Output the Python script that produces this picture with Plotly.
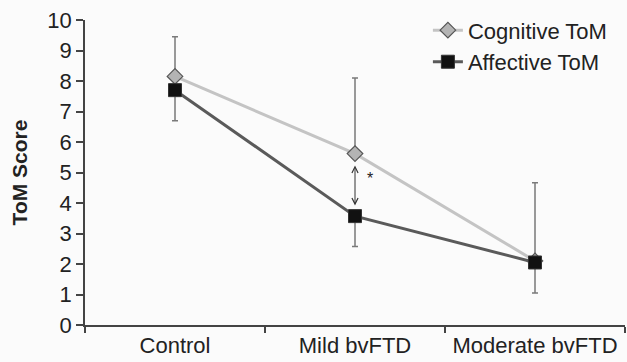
import plotly.graph_objects as go

categories = ["Control", "Mild bvFTD", "Moderate bvFTD"]
cognitive = [8.15, 5.62, 2.1]
cognitive_err_up = [1.3, 2.48, 2.56]
affective = [7.7, 3.57, 2.05]
affective_err_down = [1.0, 1.0, 1.0]
y_ticks = list(range(0, 11))

FONT = "Liberation Sans, Arial, sans-serif"

fig = go.Figure()
fig.add_trace(go.Scatter(
    x=categories, y=cognitive, name="Cognitive ToM", mode="lines+markers", legendgroup="cog",
    line=dict(color="#c4c4c4", width=3),
    marker=dict(symbol="diamond", size=12, color="#b4b4b4", line=dict(color="#555555", width=1.2)),
    error_y=dict(type="data", array=cognitive_err_up, arrayminus=[0, 0, 0], symmetric=False,
                 color="#7a7a7a", thickness=1.5, width=3),
))
fig.add_trace(go.Scatter(
    x=categories, y=affective, name="Affective ToM", mode="lines+markers", legendgroup="aff",
    line=dict(color="#5a5a5a", width=3),
    marker=dict(symbol="square", size=13, color="#111111", line=dict(color="#333333", width=1)),
    error_y=dict(type="data", array=[0, 0, 0], arrayminus=affective_err_down, symmetric=False,
                 color="#7a7a7a", thickness=1.5, width=3),
))

fig.add_annotation(x=categories[1], y=3.92, ax=categories[1], ay=5.28, xref="x", yref="y",
                   axref="x", ayref="y", text="", showarrow=True, arrowhead=5, arrowside="end+start",
                   arrowsize=1.2, arrowwidth=1, arrowcolor="#333333", standoff=0, startstandoff=0)
fig.add_annotation(x=categories[1], y=4.8, xref="x", yref="y", text="*", showarrow=False,
                   xshift=15, font=dict(family=FONT, size=16, color="#222222"))

fig.update_layout(
    width=627, height=362,
    margin=dict(l=85, r=2, t=20, b=37, autoexpand=False),
    paper_bgcolor="#fbfbfb", plot_bgcolor="#fbfbfb",
    font=dict(family=FONT, color="#222222"),
    legend=dict(x=0.635, y=1.035, xanchor="left", yanchor="top", bgcolor="rgba(0,0,0,0)",
                font=dict(family=FONT, size=22, color="#222222"), itemwidth=30, tracegroupgap=0),
    showlegend=True,
)
fig.update_xaxes(
    type="category", showgrid=False, zeroline=False, showline=True, linecolor="#444444", linewidth=1.5,
    ticks="outside", tickson="boundaries", ticklen=6, tickcolor="#444444", tickwidth=1.5,
    tickangle=0, automargin=False,
    tickfont=dict(family=FONT, size=22, color="#222222"), range=[-0.5, 2.5],
)
fig.update_yaxes(
    range=[0, 10], tickvals=y_ticks, showgrid=False, zeroline=False, showline=True,
    linecolor="#444444", linewidth=1.5, ticks="outside", ticklen=7, tickcolor="#444444", tickwidth=1.5,
    automargin=False,
    tickfont=dict(family=FONT, size=22, color="#222222"),
    title=dict(text="<b>ToM Score</b>", font=dict(family=FONT, size=21, color="#222222"), standoff=14),
)

fig.write_html("out.html", config={"displayModeBar": False},
               post_script="document.body.style.margin='0';")
